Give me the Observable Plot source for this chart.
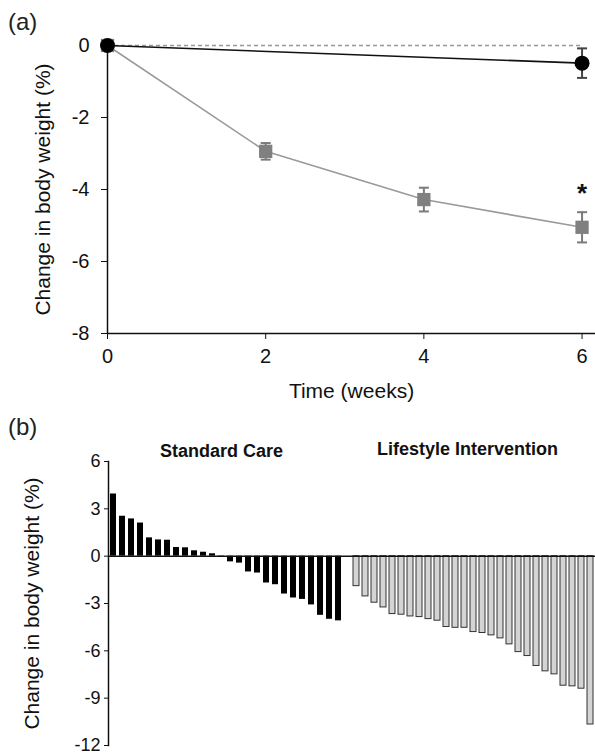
<!DOCTYPE html>
<html><head><meta charset="utf-8">
<script src="https://cdn.jsdelivr.net/npm/d3@7"></script>
<script src="https://cdn.jsdelivr.net/npm/@observablehq/plot@0.6"></script>
<style>
body{margin:0;background:#fff;font-family:"Liberation Sans",Arial,sans-serif;}
#wrap{position:relative;width:595px;height:754px;overflow:hidden;}
#wrap svg{position:absolute;left:0;}
.panel{position:absolute;left:8px;font-size:24px;line-height:1;color:#222;}
</style></head><body>
<div id="wrap">
  <div class="panel" style="top:10px">(a)</div>
  <div class="panel" style="top:415px">(b)</div>
</div>
<script>
// ---- Panel (a) data ----
const standardWeeks = [0, 6];
const standardMean = [0, -0.49];
const standardErr = [0, 0.41];
const lifestyleWeeks = [0, 2, 4, 6];
const lifestyleMean = [0, -2.94, -4.28, -5.05];
const lifestyleErr = [0, 0.23, 0.33, 0.42];
const xTicksA = [0, 2, 4, 6];
const yTicksA = [0, -2, -4, -6, -8];
const significantWeek = 6;
const xLabelA = "Time (weeks)";
const yLabel = "Change in body weight (%)";

// ---- Panel (b) data ----
const standardChange = [3.94, 2.53, 2.36, 2.1, 1.16, 1.03, 1.01, 0.55, 0.53, 0.34, 0.25, 0.15, -0.05,
  -0.36, -0.44, -1.0, -1.07, -1.7, -1.81, -2.4, -2.65, -2.74, -3.09, -3.75, -4.0, -4.1];
const lifestyleChange = [-1.9, -2.55, -2.95, -3.25, -3.67, -3.71, -3.82, -3.86, -3.99, -4.09, -4.49,
  -4.54, -4.54, -4.81, -4.87, -5.02, -5.21, -5.59, -6.08, -6.33, -6.96, -7.3, -7.49, -8.21, -8.25, -8.4, -10.67];
const yTicksB = [6, 3, 0, -3, -6, -9, -12];
const groupLabels = ["Standard Care", "Lifestyle Intervention"];

const font = '"Liberation Sans", Arial, sans-serif';
const wrap = document.getElementById("wrap");

const standardRows = standardWeeks.map((w, i) => ({week: w, mean: standardMean[i], err: standardErr[i]}));
const lifestyleRows = lifestyleWeeks.map((w, i) => ({week: w, mean: lifestyleMean[i], err: lifestyleErr[i]}));
const capSymbol = {draw(ctx, size) { const r = Math.sqrt(size / Math.PI); ctx.moveTo(-r, 0); ctx.lineTo(r, 0); }};

const errMarks = (rows, color) => [
  Plot.ruleX(rows.filter(d => d.err > 0), {x: "week", y1: d => d.mean - d.err, y2: d => d.mean + d.err, stroke: color, strokeWidth: 2}),
  Plot.dot(rows.filter(d => d.err > 0), {x: "week", y: d => d.mean + d.err, symbol: capSymbol, r: 5, stroke: color, fill: "none", strokeWidth: 2}),
  Plot.dot(rows.filter(d => d.err > 0), {x: "week", y: d => d.mean - d.err, symbol: capSymbol, r: 5, stroke: color, fill: "none", strokeWidth: 2})
];

const plotA = Plot.plot({
  width: 595, height: 410,
  marginLeft: 107, marginRight: 0, marginTop: 45, marginBottom: 77,
  style: {fontFamily: font, fontSize: "20px", color: "#111", background: "transparent", overflow: "visible"},
  x: {domain: [0, 6.17], ticks: xTicksA, tickFormat: d => String(d), tickSize: 6, tickPadding: 9, label: null},
  y: {domain: [-8, 0], ticks: yTicksA, tickFormat: d => String(d), tickSize: 6, tickPadding: 12, label: null},
  marks: [
    Plot.ruleY([0], {x1: 0, x2: 6, stroke: "#999", strokeWidth: 1.5, strokeDasharray: "4,3"}),
    Plot.ruleX([0], {stroke: "#111", strokeWidth: 1.5}),
    Plot.ruleY([-8], {stroke: "#111", strokeWidth: 1.5}),
    Plot.line(lifestyleRows, {x: "week", y: "mean", stroke: "#9a9a9a", strokeWidth: 1.6}),
    Plot.line(standardRows, {x: "week", y: "mean", stroke: "#111", strokeWidth: 1.6}),
    ...errMarks(lifestyleRows, "#7a7a7a"),
    ...errMarks(standardRows, "#444"),
    Plot.dot(lifestyleRows, {x: "week", y: "mean", symbol: "square", r: 7.5, fill: "#808080"}),
    Plot.dot(standardRows, {x: "week", y: "mean", r: 7.5, fill: "#000"}),
    Plot.text(lifestyleRows.filter(d => d.week === significantWeek), {x: "week", y: d => d.mean + d.err, text: () => "*",
      fontSize: 26, fontWeight: "bold", fill: "#111", dy: -19}),
    Plot.text([yLabel], {frameAnchor: "left", text: d => d, rotate: -90, dx: -64, fontSize: 21, textAnchor: "middle", lineAnchor: "middle", fill: "#111"}),
    Plot.text([xLabelA], {frameAnchor: "bottom", text: d => d, dy: 58, fontSize: 21, textAnchor: "middle", lineAnchor: "middle", fill: "#111"})
  ]
});
plotA.style.top = "0px";
wrap.appendChild(plotA);

// ---- Panel (b) ----
const stdRows = standardChange.map((v, i) => ({id: "S" + (i + 1), value: v}));
const lifeRows = lifestyleChange.map((v, i) => ({id: "L" + (i + 1), value: v}));
const domainB = [...stdRows.map(d => d.id), "gap", ...lifeRows.map(d => d.id)];

const plotB = Plot.plot({
  width: 595, height: 344,
  marginLeft: 108, marginRight: 0, marginTop: 51, marginBottom: 9,
  style: {fontFamily: font, fontSize: "18px", color: "#111", background: "transparent", overflow: "visible"},
  x: {type: "band", domain: domainB, paddingInner: 0.37, paddingOuter: 0.1, axis: null},
  y: {domain: [-12, 6], ticks: yTicksB, tickFormat: d => String(d), tickSize: 4, tickPadding: 4, label: null},
  marks: [
    Plot.barY(stdRows, {x: "id", y: "value", fill: "#000"}),
    Plot.barY(lifeRows, {x: "id", y: "value", fill: "#d4d4d4", stroke: "#333", strokeWidth: 1}),
    Plot.frame({anchor: "left", stroke: "#111", strokeWidth: 1.5}),
    Plot.ruleY([0], {stroke: "#111", strokeWidth: 1.5}),
    Plot.text([groupLabels[0]], {x: () => stdRows[12].id, frameAnchor: "top", text: d => d, fontWeight: "bold", fontSize: 18, lineAnchor: "middle", dy: -10}),
    Plot.text([groupLabels[1]], {x: () => lifeRows[12].id, frameAnchor: "top", text: d => d, fontWeight: "bold", fontSize: 18, lineAnchor: "middle", dy: -12, dx: 3}),
    Plot.text([yLabel], {frameAnchor: "left", text: d => d, rotate: -90, dx: -76, fontSize: 21, textAnchor: "middle", lineAnchor: "middle", fill: "#111"})
  ]
});
plotB.style.top = "410px";
wrap.appendChild(plotB);
</script>
</body></html>
